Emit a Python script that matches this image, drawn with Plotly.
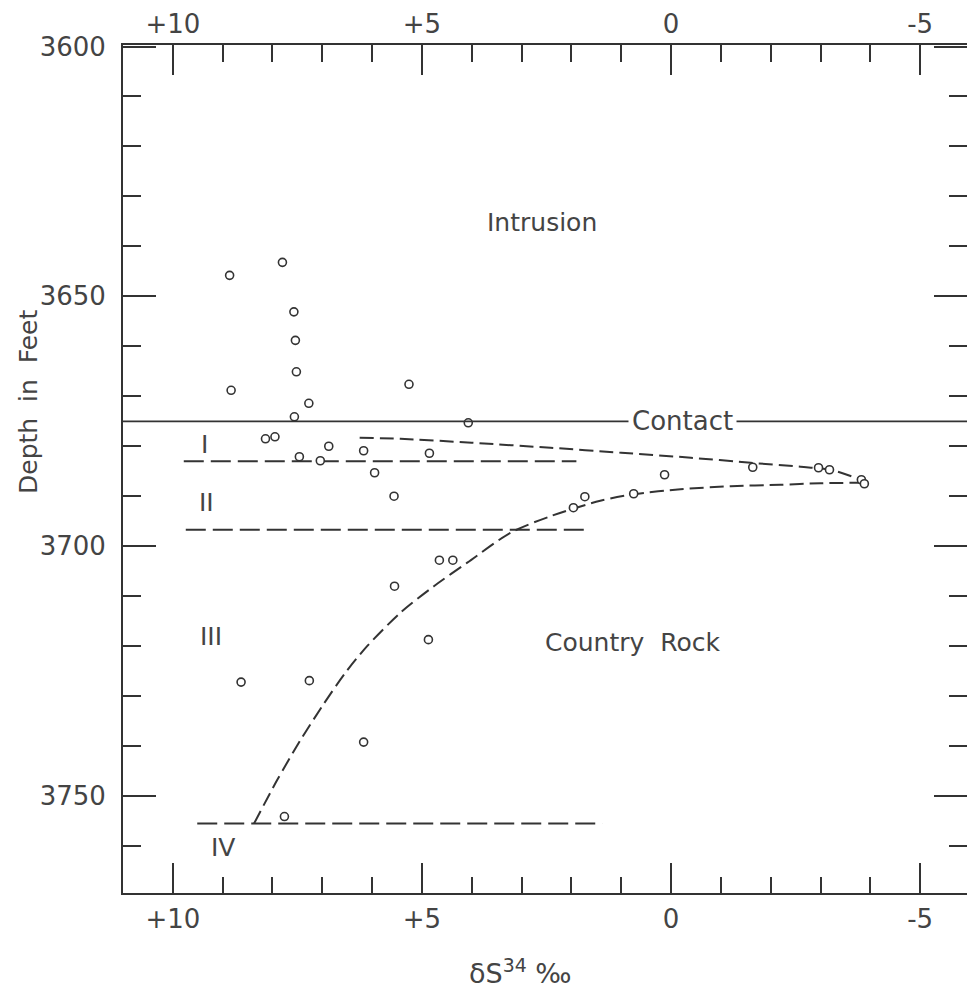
import plotly.graph_objects as go

# ---------------- data ----------------
# sample points: delta S34 (per mil) and depth (feet)
POINT_DELTA = [8.86, 7.80, 7.57, 7.54, 7.52, 8.83, 5.26, 7.27, 7.56, 4.07,
               8.14, 7.95, 6.87, 6.17, 4.85, 7.46, 7.04, 5.95, 5.56, 1.73,
               1.96, 0.75, 0.13, -1.64, -2.96, -3.18, -3.82, -3.88, 4.65, 4.38,
               5.55, 4.87, 8.63, 7.26, 6.17, 7.76]
POINT_DEPTH = [3645.8, 3643.2, 3653.1, 3658.8, 3665.1, 3668.8, 3667.6, 3671.4, 3674.1, 3675.3,
               3678.5, 3678.1, 3680.0, 3680.9, 3681.4, 3682.1, 3682.9, 3685.3, 3690.0, 3690.1,
               3692.3, 3689.5, 3685.7, 3684.2, 3684.3, 3684.7, 3686.7, 3687.5, 3702.8, 3702.8,
               3708.0, 3718.7, 3727.2, 3726.9, 3739.2, 3754.1]

# upper dashed trend curve
UPPER_CURVE_DELTA = [6.25, 5.43, 4.0, 2.42, 1.0, -0.4, -1.6, -2.6, -3.2, -3.76]
UPPER_CURVE_DEPTH = [3678.3, 3678.5, 3679.3, 3680.3, 3681.3, 3682.3, 3683.3, 3684.1, 3684.7, 3686.5]

# lower dashed trend curve
LOWER_CURVE_DELTA = [8.37, 7.90, 7.45, 7.00, 6.55, 6.10, 5.43, 4.76, 4.09, 3.22, 2.42,
                     1.42, 0.75, -0.19, -1.2, -2.19, -3.0, -3.83]
LOWER_CURVE_DEPTH = [3755.5, 3746.7, 3739.0, 3732.0, 3725.5, 3720.0, 3713.3, 3708.0, 3703.3, 3697.3, 3694.0,
                     3690.9, 3689.6, 3688.6, 3688.0, 3687.7, 3687.4, 3687.3]

# contact depth and zone boundaries
CONTACT_DEPTH = 3675.0
ZONE_DEPTH = [3683.0, 3696.7, 3755.5]
ZONE_X_START = [9.78, 9.74, 9.51]
ZONE_X_END = [1.90, 1.63, 1.38]

# axis ticks
X_TICK_VALS = [10, 5, 0, -5]
X_TICK_TEXT = ["+10", "+5", "0", "-5"]
Y_TICK_VALS = [3600, 3650, 3700, 3750]
Y_TICK_TEXT = ["3600", "3650", "3700", "3750"]

# ---------------- styling ----------------
INK = "#333333"
TXT = "#444444"
FONT = "DejaVu Sans"

fig = go.Figure()

# zone boundary dashed lines
for d, xs, xe in zip(ZONE_DEPTH, ZONE_X_START, ZONE_X_END):
    fig.add_trace(go.Scatter(x=[xs, xe], y=[d, d], mode="lines",
                             line=dict(color=INK, width=2, dash="20px,7px"),
                             hoverinfo="skip", showlegend=False))

# trend curves
fig.add_trace(go.Scatter(x=UPPER_CURVE_DELTA, y=UPPER_CURVE_DEPTH, mode="lines",
                         line=dict(color=INK, width=2, dash="14px,6px", shape="spline", smoothing=0.8),
                         showlegend=False))
fig.add_trace(go.Scatter(x=LOWER_CURVE_DELTA, y=LOWER_CURVE_DEPTH, mode="lines",
                         line=dict(color=INK, width=2, dash="14px,6px", shape="spline", smoothing=0.8),
                         showlegend=False))

# contact line
fig.add_hline(y=CONTACT_DEPTH, line=dict(color=INK, width=1.8))

# sample points
fig.add_trace(go.Scatter(x=POINT_DELTA, y=POINT_DEPTH, mode="markers",
                         marker=dict(symbol="circle", size=8, color="white",
                                     line=dict(color=INK, width=1.6)),
                         showlegend=False))

# dummy trace for the mirrored axes
fig.add_trace(go.Scatter(x=[], y=[], xaxis="x2", yaxis="y2", showlegend=False))

common = dict(showline=True, linecolor=INK, linewidth=2, ticks="inside", tickwidth=2,
              tickcolor=INK, showgrid=False, zeroline=False,
              tickfont=dict(family=FONT, size=26, color=TXT))

XR = [11.0, -5.94]
YR = [3769.4, 3599.7]

fig.update_layout(
    width=967, height=990, autosize=False,
    margin=dict(l=123, r=0, t=45, b=97, autoexpand=False),
    paper_bgcolor="white", plot_bgcolor="white",
    xaxis=dict(range=XR, side="bottom", anchor="y", tickmode="array",
               tickvals=X_TICK_VALS, ticktext=X_TICK_TEXT, ticklen=30,
               ticklabelstandoff=2,
               minor=dict(tickmode="linear", tick0=0, dtick=1, ticks="inside",
                          ticklen=16, tickwidth=2, tickcolor=INK),
               **common),
    xaxis2=dict(range=XR, side="top", anchor="y", overlaying="x", matches="x",
                tickmode="array", tickvals=X_TICK_VALS, ticktext=X_TICK_TEXT, ticklen=30,
                ticklabelstandoff=0,
                minor=dict(tickmode="linear", tick0=0, dtick=1, ticks="inside",
                           ticklen=17, tickwidth=2, tickcolor=INK),
                **common),
    yaxis=dict(range=YR, side="left", anchor="x", tickmode="array",
               tickvals=Y_TICK_VALS, ticktext=Y_TICK_TEXT, ticklen=33,
               ticklabelstandoff=10,
               minor=dict(tickmode="linear", tick0=3600, dtick=10, ticks="inside",
                          ticklen=18, tickwidth=2, tickcolor=INK),
               **common),
    yaxis2=dict(range=YR, side="right", anchor="x", overlaying="y", matches="y",
                tickmode="array", tickvals=Y_TICK_VALS, ticklen=33, showticklabels=False,
                minor=dict(tickmode="linear", tick0=3600, dtick=10, ticks="inside",
                           ticklen=18, tickwidth=2, tickcolor=INK),
                **common),
)

tfont = dict(family=FONT, size=25, color=TXT)
ann = [
    dict(x=2.59, y=3635.3, text="Intrusion", xref="x", yref="y", showarrow=False, font=tfont),
    dict(x=0.78, y=3719.3, text="Country\u00a0\u00a0Rock", xref="x", yref="y",
         showarrow=False, font=tfont),
    dict(x=-0.23, y=CONTACT_DEPTH, text="Contact", xref="x", yref="y", showarrow=False,
         font=dict(family=FONT, size=26, color=TXT), bgcolor="white", borderpad=3),
    dict(x=9.36, y=3679.7, text="I", xref="x", yref="y", showarrow=False, font=tfont),
    dict(x=9.32, y=3691.3, text="II", xref="x", yref="y", showarrow=False, font=tfont),
    dict(x=9.24, y=3718.0, text="III", xref="x", yref="y", showarrow=False, font=tfont),
    dict(x=9.0, y=3760.3, text="IV", xref="x", yref="y", showarrow=False, font=tfont),
    dict(x=-(123 - 28) / 844, y=(893 - 402) / 848, xanchor="center", yanchor="middle",
         text="Depth\u00a0 in\u00a0 Feet", xref="paper", yref="paper",
         showarrow=False, textangle=-90, font=dict(family=FONT, size=25, color=TXT)),
    dict(x=(520 - 123) / 844, y=-(952 - 893) / 848, xanchor="center", yanchor="top",
         text="\u03b4S<sup>34</sup> \u2030", xref="paper", yref="paper",
         showarrow=False, font=dict(family=FONT, size=27, color=TXT)),
]
fig.update_layout(annotations=ann)

fig.write_html("out.html", config={"displayModeBar": False},
               post_script="document.body.style.margin='0px';")
